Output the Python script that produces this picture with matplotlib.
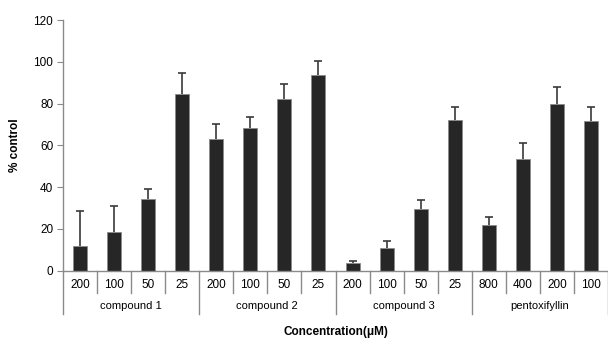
import numpy as np
import matplotlib
matplotlib.use('Agg')
import matplotlib.pyplot as plt
import matplotlib.transforms as mtransforms

plt.rcParams['font.family'] = ['Liberation Sans', 'DejaVu Sans']

groups = ['compound 1', 'compound 2', 'compound 3', 'pentoxifyllin']
conc_labels = ['200', '100', '50', '25',
               '200', '100', '50', '25',
               '200', '100', '50', '25',
               '800', '400', '200', '100']
values = [11.8, 18.5, 34.2, 84.7,
          63.2, 68.3, 82.3, 93.7,
          3.5, 11.0, 29.7, 72.1,
          21.7, 53.6, 79.9, 71.5]
errors = [16.6, 12.6, 4.9, 9.9,
          6.9, 5.1, 7.2, 6.5,
          1.0, 3.4, 4.1, 6.4,
          4.2, 7.5, 8.0, 6.7]

fig = plt.figure(figsize=(6.08, 3.38), dpi=100)
ax = fig.add_axes([63 / 608, 67.3 / 338, 545 / 608, 250.7 / 338])

x = np.arange(len(values))
ax.bar(x, values, width=0.41, color='#262626', edgecolor='#8a8a8a', linewidth=0.6, zorder=2)
eb = ax.errorbar(x, values, yerr=[np.zeros(len(errors)), errors], fmt='none',
                 ecolor='#3a3a3a', elinewidth=1.2, capsize=3, capthick=1.2, zorder=3)
# only the upper cap is shown
eb[1][0].set_visible(False)

ax.set_ylim(0, 120)
ax.set_xlim(-0.5, len(values) - 0.5)
ax.set_yticks(np.arange(0, 121, 20))
ax.tick_params(axis='y', labelsize=8.5, length=4, color='#8a8a8a', pad=3)
ax.set_xticks([])
for s in ['top', 'right']:
    ax.spines[s].set_visible(False)
for s in ['left', 'bottom']:
    ax.spines[s].set_color('#8a8a8a')
    ax.spines[s].set_linewidth(1)

# category separators below the axis
trans = mtransforms.blended_transform_factory(ax.transData, ax.transAxes)
px = 1 / 250.7
for b in np.arange(-0.5, len(values), 1.0):
    depth = 43 if (b + 0.5) % 4 == 0 else 22
    ax.plot([b, b], [0, -depth * px], transform=trans, color='#8a8a8a',
            linewidth=1, clip_on=False)

for i, lab in enumerate(conc_labels):
    ax.text(i, -14.5 * px, lab, transform=trans, ha='center', va='center', fontsize=8.5)
for g, name in enumerate(groups):
    ax.text(g * 4 + 1.5, -35.5 * px, name, transform=trans, ha='center', va='center', fontsize=8)

ax.text(7.5, -61.5 * px, 'Concentration(\u03bcM)', transform=trans, ha='center', va='center',
        fontsize=8.5, fontweight='bold')
ax.set_ylabel('% control', fontsize=8.5, fontweight='bold', labelpad=9)

fig.savefig('out.png', dpi=100)
